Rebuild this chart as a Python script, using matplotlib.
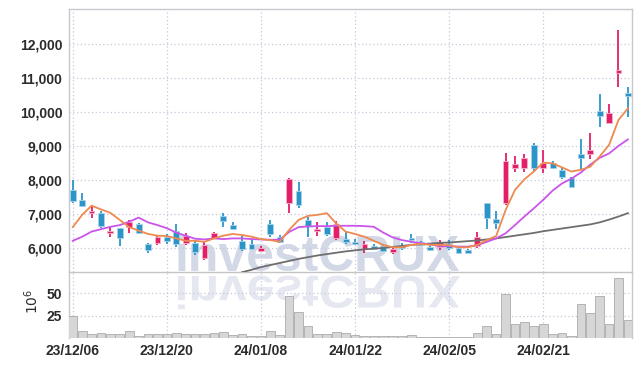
import numpy as np
import matplotlib
matplotlib.use('Agg')
import matplotlib.pyplot as plt
from matplotlib import font_manager as fm
from matplotlib.textpath import TextPath
from matplotlib.patches import PathPatch
from matplotlib.transforms import Affine2D
from matplotlib.ticker import FuncFormatter

# 일봉 데이터 (2023/12/06 ~ 2024/03/04)
opens = [7700, 7430, 7040, 7040, 6440, 6590, 6630, 6710, 6130, 6160,
         6340, 6510, 6160, 6150, 5710, 6290, 6950, 6680, 6220, 6130,
         5930, 6710, 6340, 7340, 7690, 6830, 6510, 6610, 6310, 6270,
         6190, 5970, 6070, 6070, 5890, 6070, 6280, 6190, 6050, 6030,
         6130, 6020, 5950, 6070, 7340, 6850, 7340, 8360, 8360, 9020,
         8360, 8510, 8290, 8050, 8760, 8760, 10030, 9680, 11140, 10540]
highs = [8000, 7610, 7240, 7080, 6630, 6600, 6830, 6740, 6170, 6390,
         6410, 6710, 6460, 6250, 6200, 6480, 7040, 6760, 6360, 6250,
         6060, 6830, 6380, 8050, 7950, 6910, 6770, 6770, 6800, 6490,
         6270, 6220, 6140, 6130, 6030, 6150, 6420, 6220, 6070, 6240,
         6240, 6050, 5990, 6480, 7340, 7100, 8780, 8700, 8750, 9080,
         8880, 8560, 8360, 8080, 9190, 9390, 10510, 10230, 12400, 10720]
lows = [7320, 7200, 6880, 6600, 6320, 6070, 6450, 6410, 5850, 6100,
        6120, 6050, 6100, 5800, 5650, 6260, 6610, 6540, 5930, 5950,
        5880, 6340, 6160, 7030, 7170, 6340, 6370, 6350, 6240, 6130,
        6090, 5860, 5970, 5900, 5840, 5960, 6160, 6070, 5910, 5960,
        5960, 5850, 5850, 6000, 6560, 6560, 7270, 8240, 8240, 8240,
        8210, 8330, 8020, 7810, 8320, 8610, 9540, 9680, 10730, 9840]
closes = [7400, 7250, 7100, 6650, 6510, 6290, 6760, 6440, 5950, 6320,
          6220, 6130, 6370, 5880, 6100, 6460, 6810, 6570, 5970, 5980,
          6020, 6420, 6190, 8020, 7270, 6650, 6570, 6410, 6710, 6190,
          6130, 6130, 5990, 5930, 5970, 6010, 6240, 6090, 5950, 6190,
          6020, 5870, 5870, 6320, 6880, 6750, 8560, 8460, 8650, 8340,
          8510, 8360, 8080, 7810, 8640, 8880, 9880, 9950, 11220, 10460]
# 거래량 (10^6)
volumes = [25, 7.9, 4.6, 5.7, 4.6, 4.6, 7.9, 2.3, 4.6, 4.6,
           4.2, 5.7, 4.6, 4.2, 4.6, 5.3, 6.5, 3.4, 4.6, 2.7,
           2.7, 7.5, 3.4, 47, 28.8, 13.1, 4.6, 4.6, 6.5, 5.7,
           3.4, 2.7, 2.3, 2.3, 2.3, 2.3, 3.0, 1.5, 1.0, 1.2,
           1.5, 1.2, 1.0, 5.3, 13.5, 4.6, 49, 15.7, 17.6, 13.5,
           15.7, 4.6, 5.3, 2.7, 38, 27.7, 47, 15.7, 66.7, 20.2]
# 이동평균선
ma5 = [6620, 6980, 7250, 7140, 7040, 6830, 6620, 6520, 6420, 6370,
       6360, 6290, 6220, 6220, 6190, 6290, 6370, 6420, 6390, 6340,
       6270, 6240, 6190, 6540, 6830, 6950, 6980, 7030, 6730, 6490,
       6420, 6340, 6220, 6100, 6030, 6030, 6100, 6130, 6100, 6100,
       6090, 6030, 6030, 6100, 6240, 6360, 7120, 7710, 8020, 8250,
       8510, 8490, 8370, 8250, 8300, 8390, 8690, 9030, 9760, 10100]
ma20 = [6220, 6340, 6490, 6560, 6630, 6680, 6780, 6900, 6760, 6680,
        6590, 6460, 6370, 6280, 6260, 6290, 6270, 6290, 6290, 6270,
        6260, 6250, 6250, 6480, 6620, 6640, 6650, 6650, 6660, 6660,
        6660, 6650, 6630, 6460, 6320, 6240, 6190, 6150, 6110, 6070,
        6060, 6050, 6050, 6090, 6190, 6290, 6440, 6680, 6930, 7170,
        7420, 7690, 7900, 8040, 8220, 8450, 8650, 8780, 9000, 9190]
ma60 = [np.nan] * 18 + [
        5300, 5370, 5450, 5510, 5570, 5630, 5690, 5740, 5790, 5830,
        5870, 5910, 5940, 5970, 5990, 6010, 6040, 6070, 6100, 6120,
        6140, 6160, 6170, 6190, 6210, 6230, 6260, 6290, 6330, 6370,
        6410, 6450, 6500, 6540, 6580, 6620, 6660, 6700, 6760, 6840,
        6930, 7030]
date_labels = ['23/12/06', '23/12/20', '24/01/08', '24/01/22', '24/02/05', '24/02/21']
price_ticks = [6000, 7000, 8000, 9000, 10000, 11000, 12000]

RED = '#e31f6a'
BLUE = '#2c95c7'
GRID = '#c6c9da'
TXT = '#2b2b2b'

avail = {f.name for f in fm.fontManager.ttflist}
if 'Liberation Sans Narrow' in avail:
    tick_font, tick_size = 'Liberation Sans Narrow', 10.5
elif 'Liberation Sans' in avail:
    tick_font, tick_size = 'Liberation Sans', 10
else:
    tick_font, tick_size = 'DejaVu Sans', 9
wm_font = 'Liberation Sans' if 'Liberation Sans' in avail else 'DejaVu Sans'

W, H = 642, 366
fig = plt.figure(figsize=(W / 100, H / 100), dpi=100)
fig.patch.set_facecolor('white')

def fr(x0, y0, x1, y1):
    return [x0 / W, 1 - y1 / H, (x1 - x0) / W, (y1 - y0) / H]

ax = fig.add_axes(fr(69, 9.3, 632.3, 272.3))
axv = fig.add_axes(fr(69, 272.3, 632.3, 338), sharex=ax)
for a in (ax, axv):
    a.set_facecolor('none')

# 워터마크
fp = fm.FontProperties(family=wm_font, weight='bold')
tp = TextPath((0, 0), 'investCRUX', size=1, prop=fp)
bb = tp.get_extents()
wm_size = 282 / bb.width * 0.72
fig.text((178 - bb.x0 * 282 / bb.width) / W, 1 - 271 / H, 'investCRUX', fontproperties=fp,
         fontsize=wm_size, color='#d3d8e7', ha='left', va='baseline', zorder=-5)
# 반사 이미지
sx = 282 / bb.width
tr2 = Affine2D().translate(-bb.x0, 0).scale(sx, -33 / 0.72).translate(178, H - 276)
fig.add_artist(PathPatch(tp, transform=tr2, facecolor='#e6e8f1', edgecolor='none', zorder=-5))

x = np.arange(len(opens))
o = np.array(opens); c = np.array(closes)
up = c >= o
cols = np.where(up, RED, BLUE)
edge = np.where(up, '#f3b3c9', '#a9d3ea')

ax.vlines(x, lows, highs, colors=cols, lw=1.3, zorder=3)
body = np.maximum(np.abs(c - o), 60)
ax.bar(x, body, bottom=np.minimum(o, c), width=0.62, color=cols,
       edgecolor=edge, linewidth=0.6, zorder=4)

ax.plot(x, ma60, color='#6e6e6e', lw=1.3, zorder=5)
ax.plot(x, ma20, color='#c955ea', lw=1.3, zorder=5)
ax.plot(x, ma5, color='#ee8a50', lw=1.3, zorder=6)

axv.bar(x, volumes, width=0.92, color='#d6d6d6', edgecolor='#ababab', linewidth=0.6, zorder=3)

ax.set_xlim(-0.4, 59.47)
ax.set_ylim(5297, 13003)
axv.set_ylim(0, 73.4)

ax.set_yticks(price_ticks)
ax.yaxis.set_major_formatter(FuncFormatter(lambda v, p: f'{int(v):,}'))
axv.set_yticks([25, 50])
ax.set_xticks(np.arange(0, 60, 10))
axv.set_xticks(np.arange(0, 60, 10))
axv.set_xticklabels(date_labels)
plt.setp(ax.get_xticklabels(), visible=False)

for a in (ax, axv):
    a.grid(True, ls=(0, (1, 2)), color=GRID, lw=0.9, zorder=0)
    a.set_axisbelow(True)
    a.tick_params(length=0, labelsize=tick_size, labelcolor=TXT, pad=4.8)
    for lab in a.get_xticklabels() + a.get_yticklabels():
        lab.set_fontfamily(tick_font)
        lab.set_fontweight('bold')
    for s in a.spines.values():
        s.set_color('#c8c9d0')
        s.set_linewidth(1.0)
axv.tick_params(axis='x', pad=4)
ax.spines['bottom'].set_color('#c4c4c4')
axv.spines['top'].set_visible(False)
axv.spines['bottom'].set_visible(False)

fig.text(32 / W, 1 - 301 / H, r'$10^6$', rotation=90, ha='center', va='center',
         fontsize=10, color=TXT)

fig.savefig('out.png', dpi=100, facecolor='white')
